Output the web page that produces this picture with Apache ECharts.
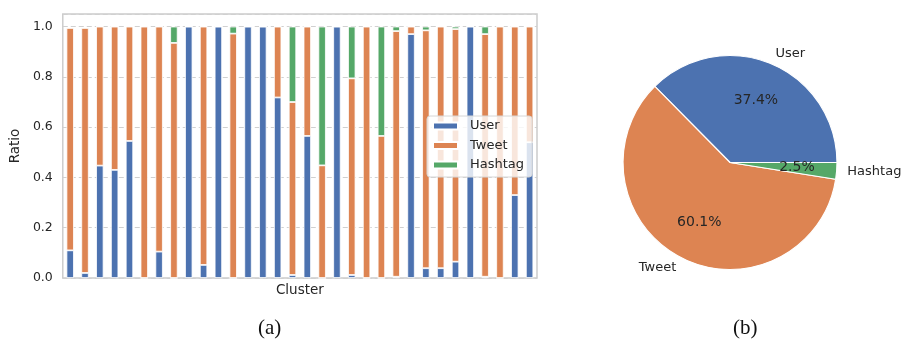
<!DOCTYPE html>
<html>
<head>
<meta charset="utf-8">
<script src="https://cdn.jsdelivr.net/npm/echarts@6/dist/echarts.min.js"></script>
<style>
  html, body { margin: 0; padding: 0; background: #ffffff; }
  #chart { width: 903px; height: 343px; }
</style>
</head>
<body>
<div id="chart"></div>
<script>
// Per-cluster composition (fractions of each cluster)
const clusters = ['0','1','2','3','4','5','6','7','8','9','10','11','12','13','14','15',
                  '16','17','18','19','20','21','22','23','24','25','26','27','28','29','30','31'];
const userRatio = [0.11, 0.02, 0.447, 0.43, 0.545, 0, 0.105, 0, 1, 0.052, 1, 0, 1, 1, 0.718, 0.012,
                   0.565, 0, 1, 0.012, 0, 0, 0.005, 0.97, 0.039, 0.039, 0.065, 1, 0.005, 0, 0.33, 0.54];
const tweetRatio = [0.885, 0.975, 0.553, 0.57, 0.455, 1, 0.895, 0.935, 0, 0.948, 0, 0.972, 0, 0, 0.282, 0.688,
                    0.435, 0.448, 0, 0.782, 1, 0.565, 0.977, 0.03, 0.946, 0.961, 0.925, 0, 0.965, 1, 0.67, 0.46];
const hashtagRatio = [0, 0, 0, 0, 0, 0, 0, 0.065, 0, 0, 0, 0.028, 0, 0, 0, 0.30,
                      0, 0.552, 0, 0.206, 0, 0.435, 0.018, 0, 0.015, 0, 0.01, 0, 0.03, 0, 0, 0];

// Overall share of each entity type (percent)
const pieNames = ['User', 'Tweet', 'Hashtag'];
const pieShares = [37.4, 60.1, 2.5];

const colors = ['#4C72B0', '#DD8452', '#55A868'];
const textColor = '#262626';
const font = 'DejaVu Sans';

const pieCenter = [730, 162.5];
const pieR = 107;

function barSeries(name, values, color) {
  return {
    name: name,
    type: 'bar',
    stack: 'ratio',
    data: values,
    barWidth: '50%',
    itemStyle: { color: color, borderColor: '#ffffff', borderWidth: 0.8 },
    emphasis: { disabled: true }
  };
}

const pieData = pieNames.map((n, i) => ({ name: n, value: pieShares[i], itemStyle: { color: colors[i] } }));

const captionStyle = { fontFamily: 'Liberation Serif', fontSize: 21, fontWeight: 'normal', color: '#111' };

const option = {
  backgroundColor: '#ffffff',
  animation: false,
  textStyle: { fontFamily: font, color: textColor },
  title: [
    { text: '(a)', left: 258, top: 318, padding: 0, textStyle: captionStyle },
    { text: '(b)', left: 733, top: 318, padding: 0, textStyle: captionStyle }
  ],
  grid: {
    left: 62, right: 366, top: 14, bottom: 65,
    show: true, borderColor: '#cccccc', borderWidth: 1.5, backgroundColor: 'transparent'
  },
  legend: {
    orient: 'vertical',
    left: 427, top: 116,
    data: pieNames,
    itemWidth: 25, itemHeight: 7, itemGap: 3.5,
    padding: [2, 8, 4, 5],
    backgroundColor: 'rgba(255,255,255,0.8)',
    borderColor: '#d6d6d6', borderWidth: 1, borderRadius: 3,
    textStyle: { fontFamily: font, fontSize: 13, color: textColor, lineHeight: 16, padding: [0, 0, 0, 7] },
    icon: 'rect'
  },
  xAxis: {
    type: 'category',
    data: clusters,
    name: 'Cluster',
    nameLocation: 'middle',
    nameGap: 5,
    nameTextStyle: { fontFamily: font, fontSize: 13.5, color: textColor },
    axisLine: { show: false },
    axisTick: { show: false },
    axisLabel: { show: false },
    splitLine: { show: false }
  },
  yAxis: {
    type: 'value',
    min: 0, max: 1.05, interval: 0.2,
    name: 'Ratio',
    nameLocation: 'middle',
    nameGap: 40,
    nameTextStyle: { fontFamily: font, fontSize: 13.5, color: textColor },
    axisLine: { show: false },
    axisTick: { show: false },
    axisLabel: {
      showMaxLabel: false,
      margin: 10,
      fontFamily: font, fontSize: 12.5, color: textColor,
      formatter: v => v.toFixed(1)
    },
    splitLine: { show: true, lineStyle: { color: '#d0d0d0', width: 1, type: [5, 3] } }
  },
  series: [
    barSeries('User', userRatio, colors[0]),
    barSeries('Tweet', tweetRatio, colors[1]),
    barSeries('Hashtag', hashtagRatio, colors[2]),
    {
      // pie wedges with category names just outside the rim
      name: 'share',
      type: 'pie',
      center: pieCenter,
      radius: [0, pieR],
      startAngle: 0,
      clockwise: false,
      avoidLabelOverlap: false,
      data: pieData,
      itemStyle: { borderColor: '#ffffff', borderWidth: 1.2 },
      label: {
        show: true,
        position: 'outside',
        formatter: '{b}',
        fontFamily: font, fontSize: 13, color: textColor,
        distanceToLabelLine: 0
      },
      labelLine: { show: false, length: pieR * 0.1, length2: 0 },
      emphasis: { disabled: true }
    },
    {
      // percentage text placed at 0.6 of the radius
      name: 'pct',
      type: 'pie',
      center: pieCenter,
      radius: [pieR * 0.2, pieR],
      startAngle: 0,
      clockwise: false,
      silent: true,
      avoidLabelOverlap: false,
      data: pieData.map(d => ({ name: d.name, value: d.value, itemStyle: { color: 'rgba(0,0,0,0)' } })),
      itemStyle: { borderWidth: 0 },
      label: {
        show: true,
        position: 'inside',
        formatter: p => p.value.toFixed(1) + '%',
        fontFamily: font, fontSize: 14, color: textColor
      },
      labelLine: { show: false },
      emphasis: { disabled: true }
    }
  ]
};

const chart = echarts.init(document.getElementById('chart'), null, { renderer: 'canvas' });
chart.setOption(option);
</script>
</body>
</html>
